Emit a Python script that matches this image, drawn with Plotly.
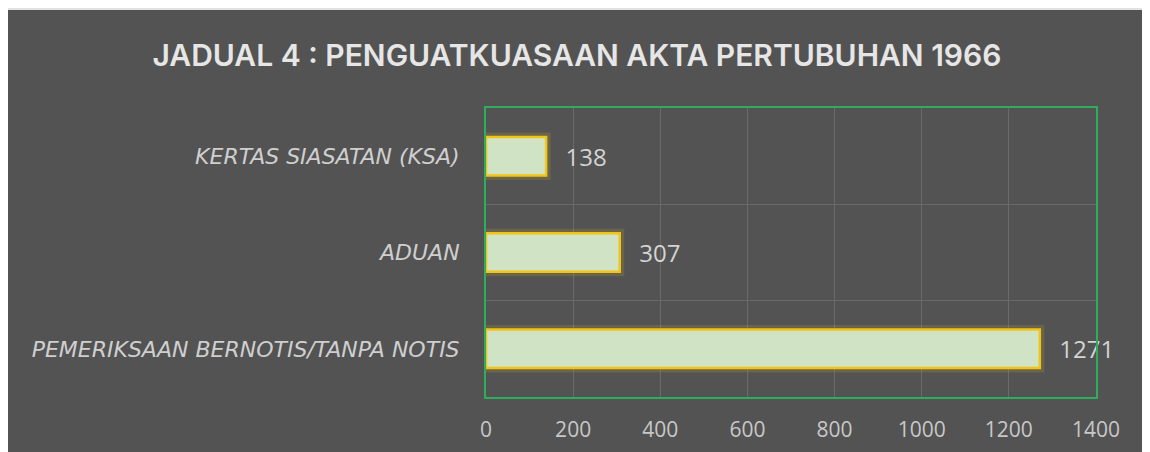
import plotly.graph_objects as go

categories = ["PEMERIKSAAN BERNOTIS/TANPA NOTIS", "ADUAN", "KERTAS SIASATAN (KSA)"]
values = [1271, 307, 138]
x_ticks = [0, 200, 400, 600, 800, 1000, 1200, 1400]
title_text = "JADUAL 4 : PENGUATKUASAAN AKTA PERTUBUHAN 1966"

W, H = 1150, 452
# page body has an 8px margin; plot area in figure coordinates
L, R, T, B = 478, 62, 100, 63
pw, ph = W - L - R, H - T - B

bg = "#535353"
fig = go.Figure()

# soft glow behind bars
fig.add_trace(go.Bar(
    x=values, y=categories, orientation="h", width=0.4,
    marker=dict(color="rgba(190,170,40,0.25)", line=dict(color="rgba(190,170,40,0.22)", width=9)),
    hoverinfo="skip", showlegend=False,
))
fig.add_trace(go.Bar(
    x=values, y=categories, orientation="h", width=0.4,
    marker=dict(color="#D0E4C5", line=dict(color="#F2C417", width=2.5)),
    text=values, texttemplate="  \u2009%{x}", textposition="outside", cliponaxis=False,
    textfont=dict(family="Open Sans", size=24, color="#D4D4D4"),
    showlegend=False,
))

fig.update_layout(
    width=W, height=H,
    margin=dict(l=L, r=R, t=T, b=B),
    paper_bgcolor=bg,
    plot_bgcolor=bg,
    barmode="overlay",
    title=dict(text=title_text, x=569 / W, xref="container",
               xanchor="center", y=1 - 47 / H, yref="container", yanchor="middle",
               font=dict(family="Inter", size=30, weight=600, color="#E6E6E6")),
    shapes=[dict(type="rect", xref="paper", yref="paper", layer="below",
                 x0=-L / pw, x1=(W - L) / pw, y0=1 + (T - 2) / ph, y1=1 + T / ph,
                 fillcolor="#E2E2E2", line=dict(width=0))],
    font=dict(family="Open Sans", color="#C8C8C8"),
)
fig.update_xaxes(
    range=[0, 1400], tickvals=x_ticks, ticktext=[str(v) for v in x_ticks],
    showgrid=True, gridcolor="#6A6A6A", gridwidth=1, zeroline=False,
    showline=True, linecolor="#2DAE5C", linewidth=2, mirror=True,
    tickfont=dict(family="Open Sans", size=21, color="#C8C8C8"),
    ticks="outside", ticklen=13, tickcolor="rgba(0,0,0,0)",
)
fig.update_yaxes(
    type="category", categoryorder="array", categoryarray=categories,
    showgrid=True, gridcolor="#6A6A6A", gridwidth=1, tickson="boundaries",
    showline=True, linecolor="#2DAE5C", linewidth=2, mirror=True,
    tickfont=dict(family="DejaVu Sans", size=22, color="#CFCFCF", style="italic"),
    ticks="", ticklabelstandoff=20,
)
fig.write_html("out.html")
